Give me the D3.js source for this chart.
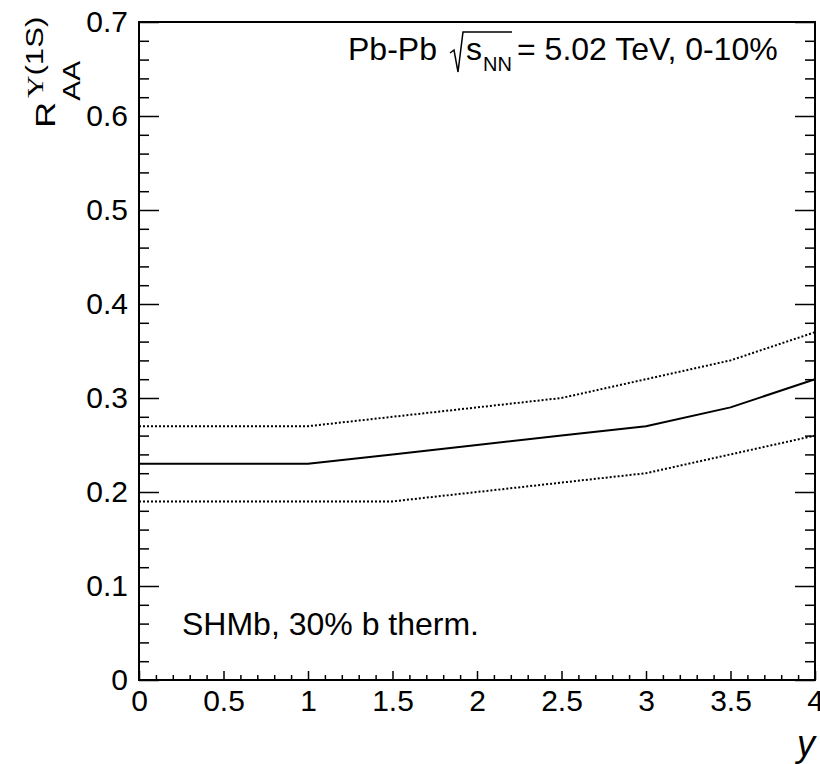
<!DOCTYPE html>
<html>
<head>
<meta charset="utf-8">
<script src="https://cdn.jsdelivr.net/npm/d3@7"></script>
<style>
  body { margin: 0; background: #fff; }
  svg text { font-family: "Liberation Sans", Arial, Helvetica, sans-serif; fill: #000; }
</style>
</head>
<body>
<div id="chart"></div>
<script>
// rapidity points and model curves
var rapidity = [0, 0.5, 1, 1.5, 2, 2.5, 3, 3.5, 4];
var raaCentral = [0.23, 0.23, 0.23, 0.24, 0.25, 0.26, 0.27, 0.29, 0.32];
var raaUpper   = [0.27, 0.27, 0.27, 0.28, 0.29, 0.30, 0.32, 0.34, 0.37];
var raaLower   = [0.19, 0.19, 0.19, 0.19, 0.20, 0.21, 0.22, 0.24, 0.26];

var xTickLabels = ["0", "0.5", "1", "1.5", "2", "2.5", "3", "3.5", "4"];
var yTickLabels = ["0", "0.1", "0.2", "0.3", "0.4", "0.5", "0.6", "0.7"];

var width = 820, height = 764;
var padL = 139, padR = 815, padT = 22, padB = 680;

var svg = d3.select("#chart").append("svg")
  .attr("width", width)
  .attr("height", height);

var x = d3.scaleLinear().domain([0, 4]).range([padL, padR]);
var y = d3.scaleLinear().domain([0, 0.7]).range([padB, padT]);

var xMajor = xTickLabels.map(Number);
var yMajor = yTickLabels.map(Number);
var xMinor = d3.range(0, 40.5, 1).map(function (d) { return d / 10; })
  .filter(function (d) { return xMajor.indexOf(d) < 0; });
var yMinor = d3.range(0, 35.5, 1).map(function (d) { return d / 50; })
  .filter(function (d) { return yMajor.indexOf(Math.round(d * 100) / 100) < 0; });

function styleAxis(g) {
  g.select(".domain").remove();
  g.selectAll("line").attr("stroke", "#000").attr("stroke-width", 1.5);
  g.selectAll("text").style("font-size", "30px").attr("fill", "#000");
}

// bottom axis, ticks point inward
svg.append("g")
  .attr("transform", "translate(0," + padB + ")")
  .call(d3.axisBottom(x).tickValues(xMajor).tickSize(-9).tickSizeOuter(0).tickPadding(10)
    .tickFormat(function (d, i) { return xTickLabels[i]; }))
  .call(styleAxis);
svg.append("g")
  .attr("transform", "translate(0," + padB + ")")
  .call(d3.axisBottom(x).tickValues(xMinor).tickSize(-5).tickSizeOuter(0).tickFormat(""))
  .call(styleAxis);

// left axis
svg.append("g")
  .attr("transform", "translate(" + padL + ",0)")
  .call(d3.axisLeft(y).tickValues(yMajor).tickSize(-20).tickSizeOuter(0).tickPadding(11)
    .tickFormat(function (d, i) { return yTickLabels[i]; }))
  .call(styleAxis);
svg.append("g")
  .attr("transform", "translate(" + padL + ",0)")
  .call(d3.axisLeft(y).tickValues(yMinor).tickSize(-10).tickSizeOuter(0).tickFormat(""))
  .call(styleAxis);

// right side ticks, no labels
svg.append("g")
  .attr("transform", "translate(" + padR + ",0)")
  .call(d3.axisLeft(y).tickValues(yMajor).tickSize(20).tickSizeOuter(0).tickFormat(""))
  .call(styleAxis);
svg.append("g")
  .attr("transform", "translate(" + padR + ",0)")
  .call(d3.axisLeft(y).tickValues(yMinor).tickSize(10).tickSizeOuter(0).tickFormat(""))
  .call(styleAxis);

// frame
svg.append("rect")
  .attr("x", padL).attr("y", padT)
  .attr("width", padR - padL).attr("height", padB - padT)
  .attr("fill", "none").attr("stroke", "#000").attr("stroke-width", 2);

// curves
function lineFor(vals) {
  return d3.line()
    .x(function (d, i) { return x(rapidity[i]); })
    .y(function (d) { return y(d); })(vals);
}
svg.append("path").attr("d", lineFor(raaUpper))
  .attr("fill", "none").attr("stroke", "#000").attr("stroke-width", 2)
  .attr("stroke-dasharray", "2,2");
svg.append("path").attr("d", lineFor(raaLower))
  .attr("fill", "none").attr("stroke", "#000").attr("stroke-width", 2)
  .attr("stroke-dasharray", "2,2");
svg.append("path").attr("d", lineFor(raaCentral))
  .attr("fill", "none").attr("stroke", "#000").attr("stroke-width", 2);

// x axis title
svg.append("text")
  .attr("x", 815).attr("y", 756)
  .attr("text-anchor", "end")
  .style("font-size", "36px")
  .style("font-style", "italic")
  .text("y");

// y axis title  R_AA^{Upsilon(1S)}  (rotated text is a bit stretched in the original)
var yt = svg.append("g").attr("transform", "translate(55,128) rotate(-90) scale(1.3,1)");
yt.append("text").attr("x", 0).attr("y", 0).style("font-size", "28px").text("R");
yt.append("text").attr("x", 21).attr("y", 25).style("font-size", "23px").text("AA");
var sup = yt.append("text").attr("x", 23).attr("y", -12).style("font-size", "24px");
sup.append("tspan").style("font-family", "'Liberation Serif', 'Times New Roman', serif").text("\u03A5");
sup.append("tspan").text("(1S)");

// system label
var lab = svg.append("g");
lab.append("text").attr("x", 348).attr("y", 60).style("font-size", "32px").text("Pb-Pb");
lab.append("path")
  .attr("d", "M450,53 L454,50 L458,72 L463,32 L512,32")
  .attr("fill", "none").attr("stroke", "#000").attr("stroke-width", 1.5);
lab.append("text").attr("x", 466).attr("y", 60).style("font-size", "32px").text("s");
lab.append("text").attr("x", 483).attr("y", 71).style("font-size", "20px").text("NN");
lab.append("text").attr("x", 517).attr("y", 60).style("font-size", "32px").text("= 5.02 TeV, 0-10%");

svg.append("text").attr("x", 182).attr("y", 635).style("font-size", "32px").text("SHMb, 30% b therm.");
</script>
</body>
</html>
